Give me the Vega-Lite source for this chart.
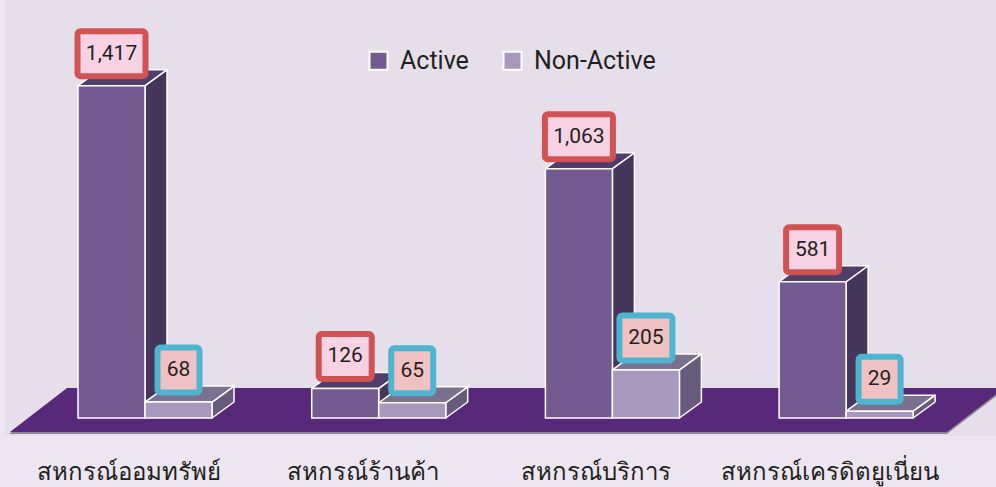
{
 "$schema": "https://vega.github.io/schema/vega-lite/v6.json",
 "width": 996,
 "height": 487,
 "autosize": {"type": "none"},
 "padding": 0,
 "background": "#ede5f1",
 "config": {"view": {"stroke": null}, "font": "Roboto"},
 "data": {"values": [
  {"category": "สหกรณ์ออมทรัพย์", "series": "Active", "value": 1417},
  {"category": "สหกรณ์ออมทรัพย์", "series": "Non-Active", "value": 68},
  {"category": "สหกรณ์ร้านค้า", "series": "Active", "value": 126},
  {"category": "สหกรณ์ร้านค้า", "series": "Non-Active", "value": 65},
  {"category": "สหกรณ์บริการ", "series": "Active", "value": 1063},
  {"category": "สหกรณ์บริการ", "series": "Non-Active", "value": 205},
  {"category": "สหกรณ์เครดิตยูเนี่ยน", "series": "Active", "value": 581},
  {"category": "สหกรณ์เครดิตยูเนี่ยน", "series": "Non-Active", "value": 29}
 ]},
 "transform": [
  {"window": [{"op": "row_number", "as": "rn"}]},
  {"calculate": "floor((datum.rn - 1) / 2)", "as": "ci"},
  {"calculate": "datum.series == 'Active' ? 0 : 1", "as": "si"},
  {"calculate": "datum.ci + datum.si * 0.2867", "as": "x0"},
  {"calculate": "datum.x0 + 0.2867", "as": "x1"},
  {"calculate": "datum.category + '|' + datum.series", "as": "key"}
 ],
 "encoding": {
  "x": {"field": "px", "type": "quantitative", "scale": {"domain": [-0.3338, 3.9281], "nice": false, "zero": false}, "axis": null},
  "y": {"field": "py", "type": "quantitative", "scale": {"domain": [-294.2, 1782.5], "nice": false, "zero": false}, "axis": null}
 },
 "layer": [
  {
   "transform": [
    {"aggregate": [{"op": "count", "as": "n"}]},
    {"calculate": "-0.3124", "as": "px"},
    {"calculate": "3.93", "as": "px2"},
    {"calculate": "-76.8", "as": "py"},
    {"calculate": "1782.5", "as": "py2"}
   ],
   "mark": {"type": "rect", "fill": "#e6dfeb"},
   "encoding": {"x2": {"field": "px2"}, "y2": {"field": "py2"}}
  },
  {
   "transform": [
    {"aggregate": [{"op": "count", "as": "n"}]},
    {"calculate": "[0, 1]", "as": "k"},
    {"flatten": ["k"]},
    {"calculate": "datum.k == 0 ? -0.291 : -0.047", "as": "px"},
    {"calculate": "datum.k == 0 ? 3.718 : 3.962", "as": "px2"},
    {"calculate": "datum.k == 0 ? -59.7 : 127.9", "as": "py"}
   ],
   "mark": {"type": "area", "orient": "horizontal", "fill": "#8d8794", "yOffset": 2, "xOffset": -1},
   "encoding": {"x2": {"field": "px2"}}
  },
  {
   "transform": [
    {"aggregate": [{"op": "count", "as": "n"}]},
    {"calculate": "[0, 1]", "as": "k"},
    {"flatten": ["k"]},
    {"calculate": "datum.k == 0 ? -0.291 : -0.047", "as": "px"},
    {"calculate": "datum.k == 0 ? 3.718 : 3.962", "as": "px2"},
    {"calculate": "datum.k == 0 ? -59.7 : 127.9", "as": "py"}
   ],
   "mark": {"type": "area", "orient": "horizontal", "fill": "#58297a"},
   "encoding": {"x2": {"field": "px2"}}
  },
  {
   "transform": [
    {"calculate": "[0, 1]", "as": "k"},
    {"flatten": ["k"]},
    {"calculate": "datum.k == 0 ? datum.x1 : datum.x1 + 0.0941", "as": "px"},
    {"calculate": "datum.k == 0 ? 0 : 68.2", "as": "py"},
    {"calculate": "datum.k == 0 ? datum.value : datum.value + 68.2", "as": "py2"}
   ],
   "mark": {"type": "area", "orient": "vertical", "stroke": "white", "strokeWidth": 1.5, "strokeJoin": "round"},
   "encoding": {
    "y2": {"field": "py2"},
    "detail": {"field": "key", "type": "nominal"},
    "color": {"condition": {"test": "datum.series == 'Active'", "value": "#46365c"}, "value": "#665b7a"}
   }
  },
  {
   "transform": [
    {"calculate": "[0, 1]", "as": "k"},
    {"flatten": ["k"]},
    {"calculate": "datum.k == 0 ? datum.x0 : datum.x0 + 0.0941", "as": "px"},
    {"calculate": "datum.k == 0 ? datum.x1 : datum.x1 + 0.0941", "as": "px2"},
    {"calculate": "datum.k == 0 ? datum.value : datum.value + 68.2", "as": "py"}
   ],
   "mark": {"type": "area", "orient": "horizontal", "stroke": "white", "strokeWidth": 1.5, "strokeJoin": "round"},
   "encoding": {
    "x2": {"field": "px2"},
    "detail": {"field": "key", "type": "nominal"},
    "color": {"condition": {"test": "datum.series == 'Active'", "value": "#4f3e6b"}, "value": "#7c7090"}
   }
  },
  {
   "transform": [
    {"calculate": "datum.x0", "as": "px"},
    {"calculate": "datum.x1", "as": "px2"},
    {"calculate": "0", "as": "py"},
    {"calculate": "datum.value", "as": "py2"}
   ],
   "mark": {"type": "rect", "stroke": "white", "strokeWidth": 1.5},
   "encoding": {
    "x2": {"field": "px2"},
    "y2": {"field": "py2"},
    "color": {
     "field": "series", "type": "nominal",
     "scale": {"domain": ["Active", "Non-Active"], "range": ["#735a90", "#a898be"]},
     "legend": {"orient": "none", "legendX": 366, "legendY": 48, "direction": "horizontal", "title": null, "padding": 0,
      "symbolType": "square", "symbolSize": 324, "symbolStrokeColor": "white", "symbolStrokeWidth": 2, "symbolOpacity": 1,
      "labelFontSize": 25, "labelColor": "#231f20", "labelFont": "Roboto", "columnPadding": 30, "labelOffset": 9}
    }
   }
  },
  {
   "transform": [
    {"calculate": "format(datum.value, ',')", "as": "label"},
    {"calculate": "length(replace(datum.label, ',', ''))", "as": "nd"},
    {"calculate": "length(datum.label) - datum.nd", "as": "nc"},
    {"calculate": "(20 + 11 * datum.nd + 4 * datum.nc) / 2 / 233.7", "as": "hw"},
    {"calculate": "datum.x0 + 0.14335", "as": "cx"},
    {"calculate": "datum.value + 136.5", "as": "cy"},
    {"calculate": "datum.cx - datum.hw", "as": "px"},
    {"calculate": "datum.cx + datum.hw", "as": "px2"},
    {"calculate": "datum.cy - 96", "as": "py"},
    {"calculate": "datum.cy + 96", "as": "py2"}
   ],
   "mark": {"type": "rect", "strokeWidth": 6, "cornerRadius": 3},
   "encoding": {
    "x2": {"field": "px2"},
    "y2": {"field": "py2"},
    "fill": {"condition": {"test": "datum.series == 'Active'", "value": "#f6d2e4"}, "value": "#f0c1c2"},
    "stroke": {"condition": {"test": "datum.series == 'Active'", "value": "#d05252"}, "value": "#4fb4cf"}
   }
  },
  {
   "transform": [
    {"calculate": "format(datum.value, ',')", "as": "label"},
    {"calculate": "datum.x0 + 0.14335", "as": "px"},
    {"calculate": "datum.value + 136.5", "as": "py"}
   ],
   "mark": {"type": "text", "fontSize": 21, "color": "#231f20", "baseline": "middle", "align": "center", "font": "Roboto"},
   "encoding": {"text": {"field": "label"}}
  },
  {
   "transform": [
    {"filter": "datum.series == 'Active'"},
    {"calculate": "datum.ci + 0.218", "as": "px"},
    {"calculate": "-264.4", "as": "py"}
   ],
   "mark": {"type": "text", "fontSize": 24, "color": "#231f20", "baseline": "alphabetic", "align": "center", "font": "Noto Sans"},
   "encoding": {"text": {"field": "category"}}
  }
 ]
}
